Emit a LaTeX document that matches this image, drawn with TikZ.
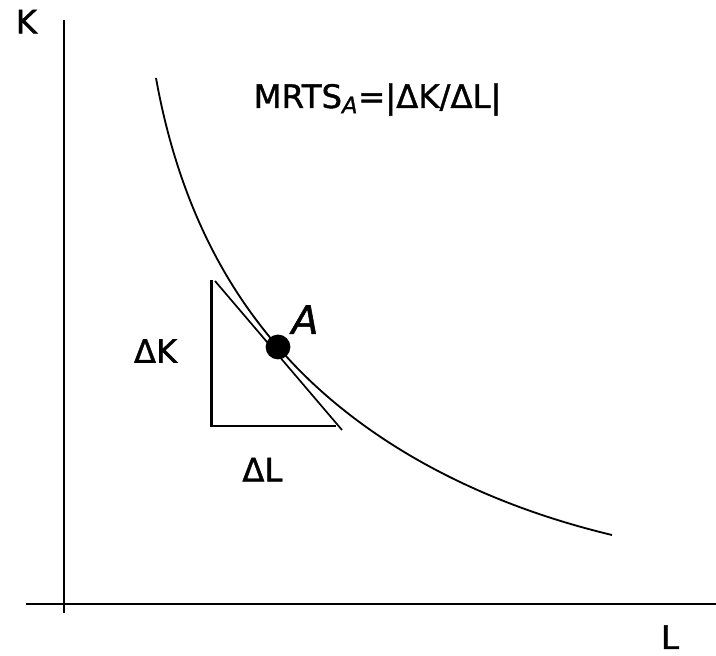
\documentclass[tikz,border=0pt]{standalone}
\usepackage{fontspec}
\setmainfont[FakeBold=1.2]{DejaVu Sans}
\begin{document}
\begin{tikzpicture}[
    lbl/.style={font=\fontsize{23}{26}\selectfont,inner sep=0pt},
    dot/.style={circle,fill=black,inner sep=0pt,minimum size=0.62cm}]
  \useasboundingbox (0,0) rectangle (17.9,16.4);
  % axes
  \coordinate (ytop) at (1.6,15.9);
  \coordinate (ybot) at (1.6,1.075);
  \coordinate (xl) at (0.65,1.3);
  \coordinate (xr) at (17.9,1.3);
  \draw[line width=1.2pt] (ybot) -- (ytop);
  \draw[line width=1.8pt] (xl) -- (xr);
  \node[lbl] (K) at (0.66,15.86) {K};
  \node[lbl] (L) at (16.75,0.47) {L};
  % isoquant through A
  \coordinate (A0) at (6.95,7.725);
  \coordinate (qs) at (3.9,14.45);
  \coordinate (qe) at (15.3,3.025);
  \draw[line width=1.3pt] (qs) .. controls (4.57,10.71) and (6.11,8.71) .. (A0)
    .. controls (8.64,5.75) and (11.41,3.957) .. (qe);
  % tangent at A and the triangle
  \coordinate (t1) at (5.375,9.375);
  \coordinate (t2) at (8.55,5.65);
  \draw[line width=1.2pt] (t1) -- (t2);
  \coordinate (tritop) at (5.29,9.395);
  \coordinate (tricorner) at (5.29,5.745);
  \coordinate (triright) at (8.4,5.745);
  \draw[line width=1.6pt] (tritop) -- (tricorner) -- (triright);
  \node[dot] (A) at (A0) {};
  \node[lbl,font=\fontsize{28}{30}\selectfont\itshape] (Alab) at (7.625,8.41) {A};
  \node[lbl] (dK) at (3.89,7.625) {ΔK};
  \node[lbl] (dL) at (6.56,4.66) {ΔL};
  \node[lbl,anchor=base] (mrts) at (9.44,13.7) {MRTS\textsubscript{\itshape A}=|ΔK/ΔL|};
\end{tikzpicture}
\end{document}
